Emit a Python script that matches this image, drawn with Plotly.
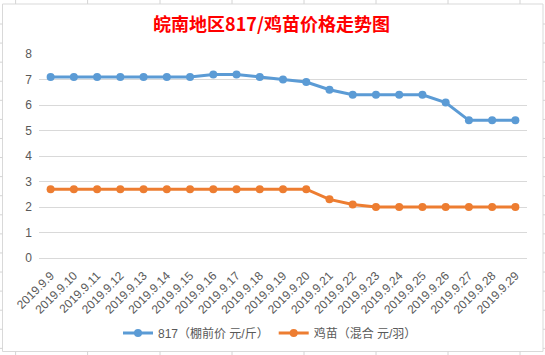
import plotly.graph_objects as go

dates = ["2019.9.9", "2019.9.10", "2019.9.11", "2019.9.12", "2019.9.13", "2019.9.14",
         "2019.9.15", "2019.9.16", "2019.9.17", "2019.9.18", "2019.9.19", "2019.9.20",
         "2019.9.21", "2019.9.22", "2019.9.23", "2019.9.24", "2019.9.25", "2019.9.26",
         "2019.9.27", "2019.9.28", "2019.9.29"]
price_817 = [7.1, 7.1, 7.1, 7.1, 7.1, 7.1, 7.1, 7.2, 7.2, 7.1, 7.0, 6.9,
             6.6, 6.4, 6.4, 6.4, 6.4, 6.1, 5.4, 5.4, 5.4]
price_chick = [2.7, 2.7, 2.7, 2.7, 2.7, 2.7, 2.7, 2.7, 2.7, 2.7, 2.7, 2.7,
               2.3, 2.1, 2.0, 2.0, 2.0, 2.0, 2.0, 2.0, 2.0]
name_817 = "817（棚前价 元/斤）"
name_chick = "鸡苗（混合 元/羽）"
title_text = "皖南地区817/鸡苗价格走势图"

W, H = 545, 355
ML, MR, MT, MB = 39, 18, 54, 97
PW, PH = W - ML - MR, H - MT - MB

def px_x(p):
    return (p - ML) / PW

def px_y(p):
    return (H - MB - p) / PH

FONT = "Liberation Sans, Noto Sans CJK SC, sans-serif"
GRAY = "#595959"

fig = go.Figure()
fig.add_trace(go.Scatter(x=dates, y=price_817, name=name_817, mode="lines+markers",
                         line=dict(color="#5B9BD5", width=3),
                         marker=dict(color="#5B9BD5", size=8)))
fig.add_trace(go.Scatter(x=dates, y=price_chick, name=name_chick, mode="lines+markers",
                         line=dict(color="#ED7D31", width=3),
                         marker=dict(color="#ED7D31", size=8)))

shapes = []
# chart border
shapes.append(dict(type="rect", xref="paper", yref="paper",
                   x0=px_x(2.5), x1=px_x(543), y0=px_y(351.5), y1=px_y(4),
                   line=dict(color="#D9D9D9", width=1), layer="below"))
# spreadsheet cell lines outside the chart
cell_color = "#D4D4D4"
for cx in [15.6, 87.6, 160, 232, 304, 376, 448, 520]:
    shapes.append(dict(type="line", xref="paper", yref="paper",
                       x0=px_x(cx), x1=px_x(cx), y0=px_y(0), y1=px_y(4),
                       line=dict(color=cell_color, width=1)))
    shapes.append(dict(type="line", xref="paper", yref="paper",
                       x0=px_x(cx), x1=px_x(cx), y0=px_y(351.5), y1=px_y(355),
                       line=dict(color=cell_color, width=1)))
for k in range(18):
    ry = 24 + 19.08 * k
    shapes.append(dict(type="line", xref="paper", yref="paper",
                       x0=px_x(0), x1=px_x(2.5), y0=px_y(ry), y1=px_y(ry),
                       line=dict(color=cell_color, width=1)))
    shapes.append(dict(type="line", xref="paper", yref="paper",
                       x0=px_x(543), x1=px_x(545), y0=px_y(ry), y1=px_y(ry),
                       line=dict(color=cell_color, width=1)))

fig.update_layout(
    width=W, height=H,
    margin=dict(l=ML, r=MR, t=MT, b=MB, autoexpand=False),
    paper_bgcolor="white", plot_bgcolor="white",
    title=dict(text=title_text, x=271.5 / W, xref="container", xanchor="center",
               y=1 - 25 / H, yref="container", yanchor="middle",
               font=dict(family="Noto Sans CJK SC, sans-serif", size=18,
                         color="#FF0000", weight="bold")),
    font=dict(family=FONT, color=GRAY, size=12),
    xaxis=dict(type="category", range=[-0.5, 20.5], showgrid=False,
               showline=True, linecolor="#D9D9D9", linewidth=1,
               tickangle=-45, tickfont=dict(size=12, color=GRAY),
               ticks="outside", ticklen=5, tickcolor="rgba(0,0,0,0)",
               zeroline=False, automargin=False),
    yaxis=dict(range=[0, 8.001], dtick=1, showgrid=True, gridcolor="#D9D9D9",
               gridwidth=1, zeroline=False, showline=False, automargin=False,
               tickfont=dict(size=12, color=GRAY), ticklabelstandoff=6),
    legend=dict(orientation="h", x=(270 - ML) / PW, xanchor="center",
                y=px_y(333), yanchor="middle", font=dict(size=12, color=GRAY),
                itemwidth=30, tracegroupgap=0),
    shapes=shapes,
)

fig.write_html("out.html", config={"displayModeBar": False},
               post_script="document.body.style.margin='0';document.body.style.overflow='hidden';")
